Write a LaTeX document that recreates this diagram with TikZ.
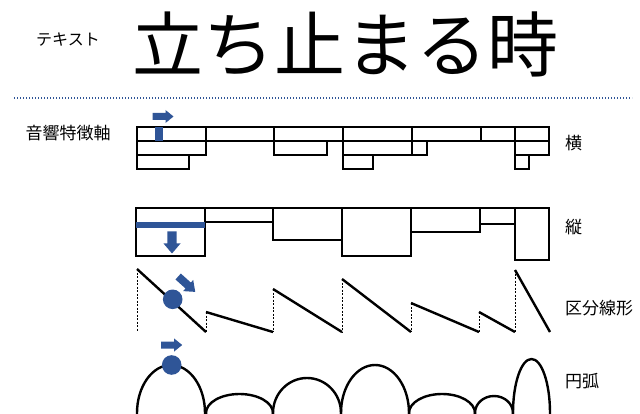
\documentclass[tikz,border=0pt]{standalone}
\usepackage{fontspec}
\setmainfont{Noto Sans CJK JP}
\definecolor{accent}{HTML}{2F5597}
\newcommand\barrow[7]{\fill[accent,shift={(#1,#2)},rotate=#3] (-#4/2,-#6) -- ({#4/2-#7},-#6) -- ({#4/2-#7},-#5) -- (#4/2,0) -- ({#4/2-#7},#5) -- ({#4/2-#7},#6) -- (-#4/2,#6) -- cycle;}
\begin{document}
\begin{tikzpicture}[x=1pt,y=-1pt,line join=miter]
\tikzset{
  bar/.style={draw=black,line width=2.4pt},
  guide/.style={draw=black,line width=0.7pt,dash pattern=on 2pt off 1.5pt},
  lbl/.style={font=\fontsize{17}{17}\selectfont,anchor=west,inner sep=0pt},
}
\useasboundingbox (0,0) rectangle (640,414);
\clip (0,0) rectangle (640,414);
% texts
\node[inner sep=0pt,font=\fontsize{16}{16}\selectfont] (lbltext) at (68,40) {テキスト};
\node[inner sep=0pt,font=\fontsize{71}{71}\selectfont] (title) at (345,44) {立ち止まる時};
\draw[accent,line width=1.6pt,dash pattern=on 1.4pt off 1.6pt] (14,98) -- (632,98);
\node[inner sep=0pt,font=\fontsize{17}{17}\selectfont] (axis) at (68,133) {音響特徴軸};
\node[lbl] (yoko) at (565,143) {横};
\node[lbl] (tate) at (565,227) {縦};
\node[lbl] (kubun) at (565,308) {区分線形};
\node[lbl] (enko) at (565,381) {円弧};
% horizontal
\foreach \a/\b in {137/206,206/274,274/343,343/412,412/481,481/515,515/549}
  \draw[bar] (\a,127) rectangle (\b,141);
\foreach \a/\b in {137/206,274/327,343/412,412/427,515/549}
  \draw[bar] (\a,141) rectangle (\b,155);
\foreach \a/\b in {137/189,343/373,515/529}
  \draw[bar] (\a,155) rectangle (\b,169);
\fill[accent] (155,127) rectangle (163,141);
\barrow{163}{116.5}{0}{21}{6.5}{3.5}{8}
% vertical
\foreach \a/\b/\c in {136/205/256,205/273/222,273/342/240,342/411/256,411/480/232,480/515/224,515/549/260}
  \draw[bar] (\a,208) rectangle (\b,\c);
\fill[accent] (136,222) rectangle (205,228.5);
\barrow{172}{242.5}{-90}{22}{8.5}{4.7}{10}
% piecewise linear
\foreach \a/\t/\b in {137/269/206,206/312/273,273/289/342,342/279/411,411/303/479,479/312/515,515/270/550}{
  \draw[guide] (\a,\t) -- (\a,332);
  \draw[bar] (\a,\t) -- (\b,332);
}
\fill[accent] (172.7,299.3) circle (9.8);
\barrow{186.7}{284.2}{-42}{23}{7.5}{4}{9.5}
% arcs
\foreach \a/\b/\t in {137/205/365,206/273/394,273/341/378,341/409/365,409/475/394,475/513/396,513/550/359}{
  \pgfmathsetmacro\rx{(\b-\a)/2}
  \pgfmathsetmacro\ry{413-\t}
  \pgfmathsetmacro\cx{(\a+\b)/2}
  \draw[bar] (\cx,413) ellipse [x radius=\rx, y radius=\ry];
}
\fill[accent] (171.7,365) circle (9.8);
\barrow{171.7}{345}{0}{21}{6.5}{3.5}{8}
\end{tikzpicture}
\end{document}
